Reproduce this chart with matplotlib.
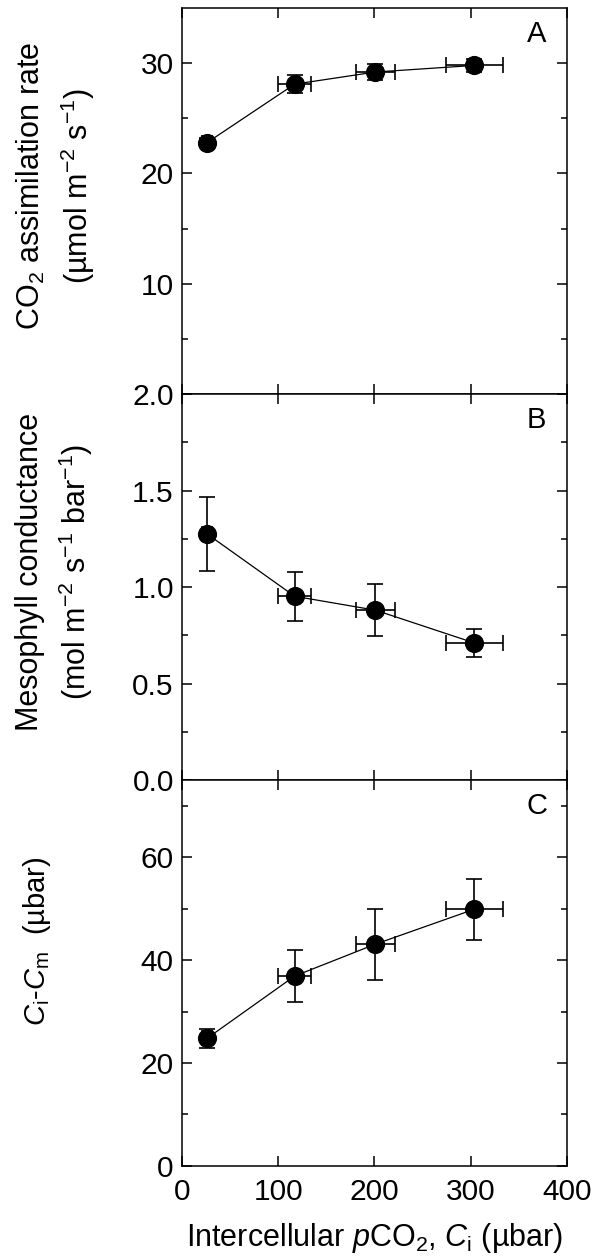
import matplotlib
matplotlib.use("Agg")
import matplotlib.pyplot as plt
from matplotlib.ticker import FixedLocator, MultipleLocator, FormatStrFormatter

plt.rcParams['font.family'] = ['Liberation Sans', 'DejaVu Sans']
plt.rcParams['mathtext.fontset'] = 'custom'
plt.rcParams['mathtext.rm'] = 'Liberation Sans'
plt.rcParams['mathtext.it'] = 'Liberation Sans:italic'

# intercellular CO2 (ubar), shared by all panels
ci = [26, 117, 201, 304]
ci_err = [5, 17, 20.5, 30]

# panel A: CO2 assimilation rate
assim = [22.8, 28.1, 29.2, 29.8]
assim_err = [0.4, 0.8, 0.75, 0.6]

# panel B: mesophyll conductance
gm = [1.275, 0.952, 0.88, 0.71]
gm_err = [0.19, 0.126, 0.136, 0.075]

# panel C: Ci - Cm drawdown
drawdown = [24.8, 36.9, 43.1, 49.9]
drawdown_err = [1.9, 5.1, 6.9, 5.9]

panel_letters = ['A', 'B', 'C']
x_ticks = [0, 100, 200, 300, 400]

fig = plt.figure(figsize=(6.03, 12.59), dpi=100)
gs = fig.add_gridspec(3, 1, left=0.302, right=0.940, top=0.9936, bottom=0.0739, hspace=0)
axes = [fig.add_subplot(gs[i]) for i in range(3)]

series = [(assim, assim_err), (gm, gm_err), (drawdown, drawdown_err)]
for ax, (y, yerr), letter in zip(axes, series, panel_letters):
    ax.errorbar(ci, y, xerr=ci_err, yerr=yerr, fmt='-o', color='black',
                lw=0.9, ms=12.8, elinewidth=1.2, capsize=6, capthick=1.2)
    ax.set_xlim(0, 400)
    ax.xaxis.set_major_locator(FixedLocator(x_ticks))
    ax.tick_params(which='both', direction='in', top=True, right=True,
                   labelsize=21.5, width=1.1, pad=6)
    ax.tick_params(which='major', length=7.2)
    ax.tick_params(which='minor', length=4.2)
    ax.tick_params(axis='x', pad=9)
    for s in ax.spines.values():
        s.set_linewidth(1.1)
    ax.text(0.922, 0.933, letter, transform=ax.transAxes, fontsize=21,
            ha='center', va='center')
    if ax is not axes[-1]:
        ax.tick_params(axis='x', labelbottom=False)

# panel A
axes[0].set_ylim(0, 35)
axes[0].yaxis.set_major_locator(FixedLocator([10, 20, 30]))
axes[0].yaxis.set_minor_locator(FixedLocator([5, 15, 25]))

# panel B
axes[1].set_ylim(0, 2.0)
axes[1].yaxis.set_major_locator(MultipleLocator(0.5))
axes[1].yaxis.set_minor_locator(MultipleLocator(0.25))
axes[1].yaxis.set_major_formatter(FormatStrFormatter('%.1f'))

# panel C
axes[2].set_ylim(0, 75)
axes[2].yaxis.set_major_locator(FixedLocator([0, 20, 40, 60]))
axes[2].yaxis.set_minor_locator(FixedLocator([10, 30, 50, 70]))

fig.text(0.092, 1 - 186 / 1259, "CO$_2$ assimilation rate\n(µmol m$^{-2}$ s$^{-1}$)",
         rotation=90, ha='center', va='center', fontsize=22, linespacing=1.4)
fig.text(0.092, 1 - 572 / 1259, "Mesophyll conductance\n(mol m$^{-2}$ s$^{-1}$ bar$^{-1}$)",
         rotation=90, ha='center', va='center', fontsize=22, linespacing=1.4)
fig.text(0.062, 1 - 941 / 1259, r"$\it{C}_{\rm i}$-$\it{C}_{\rm m}$  (µbar)",
         rotation=90, ha='center', va='center', fontsize=21)
fig.text(0.621, 1 - 1238 / 1259, r"Intercellular $\it{p}$CO$_2$, $\it{C}_{\rm i}$ (µbar)",
         ha='center', va='center', fontsize=22)

fig.savefig('out.png', dpi=100)
